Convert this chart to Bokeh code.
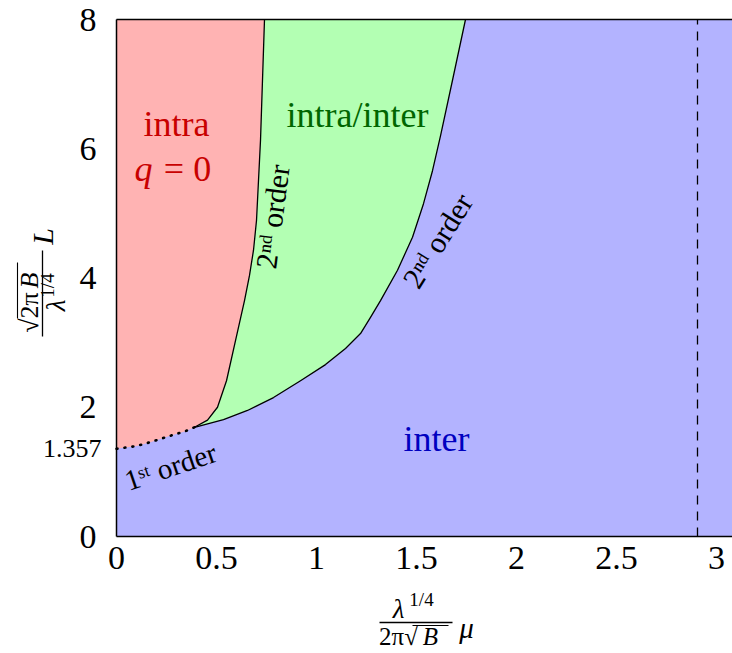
from bokeh.plotting import figure
from bokeh.models import Label, FixedTicker, Range1d
from bokeh.embed import file_html
from bokeh.resources import INLINE

# ---------------- data ----------------
# first-order (dotted) line between intra (q=0) and inter phases
first_order_x = [0.0, 0.10, 0.17, 0.26, 0.345, 0.39]
first_order_y = [1.357, 1.40, 1.46, 1.55, 1.63, 1.69]
# second-order line between intra and intra/inter
intra_mixed_x = [0.39, 0.455, 0.505, 0.55, 0.595, 0.64, 0.665, 0.685, 0.70, 0.71, 0.72, 0.74]
intra_mixed_y = [1.69, 1.80, 2.00, 2.41, 3.03, 3.65, 4.04, 4.43, 4.89, 5.51, 6.13, 8.0]
# second-order line between intra/inter and inter
mixed_inter_x = [0.39, 0.535, 0.655, 0.785, 0.92, 1.045, 1.145, 1.22, 1.27, 1.32, 1.405,
                 1.48, 1.535, 1.58, 1.62, 1.68, 1.745]
mixed_inter_y = [1.69, 1.81, 1.95, 2.15, 2.41, 2.66, 2.91, 3.14, 3.39, 3.65, 4.12,
                 4.63, 5.15, 5.66, 6.20, 7.06, 8.0]
dashed_mu = 2.905
x_ticks = [0, 0.5, 1, 1.5, 2, 2.5, 3]
x_tick_labels = ["0", "0.5", "1", "1.5", "2", "2.5", "3"]
y_ticks = [0, 2, 4, 6, 8]
y_tick_labels = ["0", "2", "4", "6", "8"]
special_y = 1.357
x_max, y_max = 3.08, 8.0

RED_FILL, GREEN_FILL, BLUE_FILL = "#ffb3b3", "#b3ffb3", "#b3b3ff"
FONT = "Liberation Serif"

W, H = 732, 653
# plot box in page pixels: left 116, top 19, right 732, bottom 536
PX_L, PX_T, PX_B = 116, 19, 536
SX = (W - PX_L) / x_max          # px per x unit
SY = (PX_B - PX_T) / y_max       # px per y unit

p = figure(width=W, height=H, output_backend="svg", toolbar_location=None,
           x_range=Range1d(-PX_L / SX, x_max),
           y_range=Range1d(-(H - PX_B) / SY, y_max + PX_T / SY),
           min_border=0)
p.background_fill_color = "white"
p.border_fill_color = "white"
p.outline_line_color = None
p.grid.visible = False

# page pixel -> data helpers (for annotation placement only)
def dx(px):
    return (px - PX_L) / SX

def dy(py):
    return (PX_B - py) / SY

# regions
p.quad(left=0, right=x_max, bottom=0, top=y_max, fill_color=BLUE_FILL, line_color=None)
red_x = [0.0] + first_order_x + intra_mixed_x[1:] + [0.0]
red_y = [y_max] + first_order_y + intra_mixed_y[1:] + [y_max]
p.patch(red_x, red_y, fill_color=RED_FILL, line_color=None)
green_x = intra_mixed_x + mixed_inter_x[::-1]
green_y = intra_mixed_y + mixed_inter_y[::-1]
p.patch(green_x, green_y, fill_color=GREEN_FILL, line_color=None)

p.line(intra_mixed_x, intra_mixed_y, line_color="black", line_width=1.3, line_join="round")
p.line(mixed_inter_x, mixed_inter_y, line_color="black", line_width=1.3, line_join="round")
p.line(first_order_x, first_order_y, line_color="black", line_width=2.6,
       line_dash="1 7", line_cap="round")

p.segment(x0=[dashed_mu], y0=[0], x1=[dashed_mu], y1=[y_max], line_color="black",
          line_width=1.3, line_dash="9 7")
p.segment(x0=[0], y0=[y_max], x1=[x_max], y1=[y_max], line_color="black", line_width=1.5)

# axes (drawn at the data origin, inside the full-canvas frame)
for ax in (p.xaxis[0], p.yaxis[0]):
    ax.fixed_location = 0
    ax.axis_line_color = "black"
    ax.axis_line_width = 1.5
    ax.major_tick_line_color = None
    ax.minor_tick_line_color = None
    ax.major_label_text_font = FONT
    ax.major_label_text_font_size = "34px"
    ax.major_label_text_color = "black"
p.xaxis.bounds = (0, x_max)
p.yaxis.bounds = (0, y_max)
p.xaxis.ticker = FixedTicker(ticks=x_ticks)
p.xaxis.major_label_overrides = dict(zip(x_ticks, x_tick_labels))
p.xaxis.major_label_standoff = 4
p.yaxis.ticker = FixedTicker(ticks=y_ticks)
p.yaxis.major_label_overrides = dict(zip(y_ticks, y_tick_labels))
p.yaxis.major_label_standoff = 14

def lab(x, y, text, size, color="black", style="normal", angle=0,
        align="center", baseline="middle"):
    p.add_layout(Label(x=x, y=y, text=text, text_font=FONT, text_font_size=size,
                       text_font_style=style, text_color=color, angle=angle,
                       angle_units="deg", text_align=align, text_baseline=baseline))

def seg(x0, y0, x1, y1, w=1.3):
    p.segment(x0=[x0], y0=[y0], x1=[x1], y1=[y1], line_color="black", line_width=w)

# special tick 1.357
lab(dx(101), special_y, "1.357", "26px", align="right")

# region labels
lab(dx(176), dy(123), "intra", "36px", color="#c80000", baseline="alphabetic")
lab(dx(143), dy(168), "q", "36px", color="#c80000", style="italic", baseline="alphabetic")
lab(dx(187), dy(168), "= 0", "36px", color="#c80000", baseline="alphabetic")
lab(dx(357), dy(114), "intra/inter", "36px", color="#006600", baseline="alphabetic")
lab(dx(436), dy(438), "inter", "36px", color="#0000c0", baseline="alphabetic")

# transition labels
lab(dx(272), dy(216), "2ⁿᵈ order", "30px", angle=82.5)
lab(dx(437), dy(240), "2ⁿᵈ order", "30px", angle=58)
lab(dx(170), dy(466), "1ˢᵗ order", "29px", angle=18.6)

# x-axis label: lambda^{1/4} / (2 pi sqrt(B)) mu
lab(dx(398), dy(608), "λ", "27px", style="italic")
lab(dx(421), dy(599), "1/4", "19px")
seg(dx(379), dy(622), dx(452), dy(622))
lab(dx(398), dy(636), "2π√", "25px")
lab(dx(430), dy(636), "B", "25px", style="italic")
seg(dx(412), dy(625), dx(448), dy(625), 1.1)
lab(dx(466), dy(627), "μ", "29px", style="italic")

# y-axis label: sqrt(2 pi B) / lambda^{1/4} L (rotated)
lab(dx(42), dy(236), "L", "30px", style="italic", angle=90)
seg(dx(42), dy(336), dx(42), dy(250))
lab(dx(29), dy(312), "√2π", "26px", angle=90)
lab(dx(29), dy(280), "B", "26px", style="italic", angle=90)
seg(dx(17), dy(318), dx(17), dy(262), 1.1)
lab(dx(55), dy(305), "λ", "27px", style="italic", angle=90)
lab(dx(47), dy(285), "1/4", "19px", angle=90)

open("out.html", "w").write(file_html(p, INLINE))
